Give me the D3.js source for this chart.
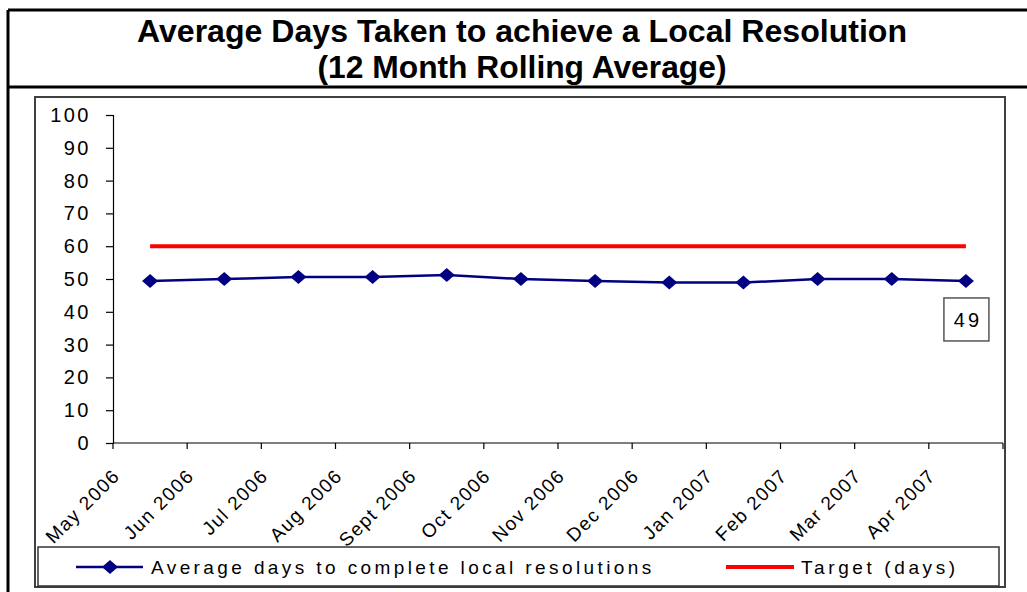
<!DOCTYPE html>
<html>
<head>
<meta charset="utf-8">
<script src="https://cdn.jsdelivr.net/npm/d3@7"></script>
<style>
  body { margin: 0; background: #fff; }
  text { font-family: "Liberation Sans", Arial, sans-serif; }
</style>
</head>
<body>
<svg id="chart" width="1027" height="592"></svg>
<script>
// data
var months = ["May 2006", "Jun 2006", "Jul 2006", "Aug 2006", "Sept 2006", "Oct 2006",
    "Nov 2006", "Dec 2006", "Jan 2007", "Feb 2007", "Mar 2007", "Apr 2007"];
var avgDays = [49.4, 50.0, 50.6, 50.6, 51.2, 50.0, 49.4, 48.9, 48.9, 50.0, 50.0, 49.4];
var target = [60, 60, 60, 60, 60, 60, 60, 60, 60, 60, 60, 60];
var yTicks = [0, 10, 20, 30, 40, 50, 60, 70, 80, 90, 100];
var titleLines = ["Average Days Taken to achieve a Local Resolution", "(12 Month Rolling Average)"];
var legendLabels = ["Average days to complete local resolutions", "Target (days)"];

var svg = d3.select("#chart");

// title frame
svg.append("line").attr("x1", 8).attr("x2", 1027).attr("y1", 10).attr("y2", 10)
    .attr("stroke", "#000").attr("stroke-width", 3);
svg.append("line").attr("x1", 8).attr("x2", 1027).attr("y1", 87).attr("y2", 87)
    .attr("stroke", "#000").attr("stroke-width", 3);
svg.append("line").attr("x1", 8).attr("x2", 8).attr("y1", 10).attr("y2", 592)
    .attr("stroke", "#000").attr("stroke-width", 3);

var titleWidths = [770, 409];
svg.selectAll("text.title")
    .data(titleLines)
    .enter().append("text")
    .attr("class", "title")
    .attr("x", 522)
    .attr("y", function (d, i) { return 42 + i * 36; })
    .attr("text-anchor", "middle")
    .attr("font-size", 31)
    .attr("font-weight", "bold")
    .attr("textLength", function (d, i) { return titleWidths[i]; })
    .attr("lengthAdjust", "spacingAndGlyphs")
    .text(function (d) { return d; });

// chart area
svg.append("rect")
    .attr("x", 35).attr("y", 97).attr("width", 970).attr("height", 490)
    .attr("fill", "#fff").attr("stroke", "#404040").attr("stroke-width", 2);

var diamond = "M-8,0L0,-7L8,0L0,7Z";

// legend (drawn first so axis labels sit on top)
var leg = svg.append("g");
leg.append("rect")
    .attr("x", 38).attr("y", 547).attr("width", 961).attr("height", 39)
    .attr("fill", "#fff").attr("stroke", "#333").attr("stroke-width", 1.5);
leg.append("line").attr("x1", 76).attr("x2", 143).attr("y1", 567).attr("y2", 567)
    .attr("stroke", "#000080").attr("stroke-width", 2.5);
leg.append("path").attr("d", diamond).attr("transform", "translate(110,567)").attr("fill", "#000080");
leg.append("text").attr("x", 151).attr("y", 574)
    .attr("font-size", 19).attr("letter-spacing", "3.4px")
    .text(legendLabels[0]);
leg.append("line").attr("x1", 726).attr("x2", 794).attr("y1", 567).attr("y2", 567)
    .attr("stroke", "#ff0000").attr("stroke-width", 4);
leg.append("text").attr("x", 801).attr("y", 574)
    .attr("font-size", 19).attr("letter-spacing", "3.6px")
    .text(legendLabels[1]);

var x = d3.scaleBand().domain(months).range([113, 1003]);
var y = d3.scaleLinear().domain([0, 100]).range([443, 115]);

// y axis
var yAxis = svg.append("g")
    .attr("transform", "translate(113,0)")
    .call(d3.axisLeft(y).tickValues(yTicks).tickSize(7).tickPadding(15));
yAxis.select(".domain").attr("stroke", "#000").attr("stroke-width", 1.2);
yAxis.selectAll(".tick line").attr("stroke", "#000").attr("stroke-width", 1.2);
yAxis.selectAll(".tick text")
    .attr("font-size", 20)
    .attr("letter-spacing", "2.5px")
    .attr("fill", "#000")
    .attr("text-anchor", "end")
    .attr("font-family", "Liberation Sans, Arial, sans-serif");

// x axis: ticks between categories
var tickPos = months.map(function (m) { return x(m); }).concat([x(months[11]) + x.bandwidth()]);
var xg = svg.append("g");
xg.append("line")
    .attr("x1", 113).attr("x2", 1003).attr("y1", y(0)).attr("y2", y(0))
    .attr("stroke", "#000").attr("stroke-width", 1.2);
xg.selectAll("line.tick")
    .data(tickPos)
    .enter().append("line")
    .attr("class", "tick")
    .attr("x1", function (d) { return d; }).attr("x2", function (d) { return d; })
    .attr("y1", y(0)).attr("y2", y(0) + 6)
    .attr("stroke", "#000").attr("stroke-width", 1.2);
xg.selectAll("text")
    .data(months)
    .enter().append("text")
    .attr("transform", function (d) {
        return "translate(" + (x(d) + 8) + "," + (y(0) + 34) + ") rotate(-45)";
    })
    .attr("text-anchor", "end")
    .attr("font-size", 19)
    .attr("letter-spacing", "1.5px")
    .text(function (d) { return d; });

var cx = function (d, i) { return x(months[i]) + x.bandwidth() / 2; };

// target line
svg.append("path")
    .datum(target)
    .attr("d", d3.line().x(cx).y(function (d) { return y(d); }))
    .attr("fill", "none")
    .attr("stroke", "#ff0000")
    .attr("stroke-width", 4);

// average line
svg.append("path")
    .datum(avgDays)
    .attr("d", d3.line().x(cx).y(function (d) { return y(d); }))
    .attr("fill", "none")
    .attr("stroke", "#000080")
    .attr("stroke-width", 2.5);

svg.selectAll("path.pt")
    .data(avgDays)
    .enter().append("path")
    .attr("class", "pt")
    .attr("d", diamond)
    .attr("transform", function (d, i) { return "translate(" + cx(d, i) + "," + y(d) + ")"; })
    .attr("fill", "#000080");

// data label on last point
var last = avgDays.length - 1;
var lx = cx(avgDays[last], last);
var lab = svg.append("g").attr("transform", "translate(" + lx + "," + (y(avgDays[last]) + 39) + ")");
lab.append("rect")
    .attr("x", -22).attr("y", -22).attr("width", 45).attr("height", 43)
    .attr("fill", "#fff").attr("stroke", "#555").attr("stroke-width", 1.5);
lab.append("text")
    .attr("x", 2).attr("y", 7)
    .attr("text-anchor", "middle")
    .attr("font-size", 20)
    .attr("letter-spacing", "3px")
    .text(Math.round(avgDays[last]));
</script>
</body>
</html>
